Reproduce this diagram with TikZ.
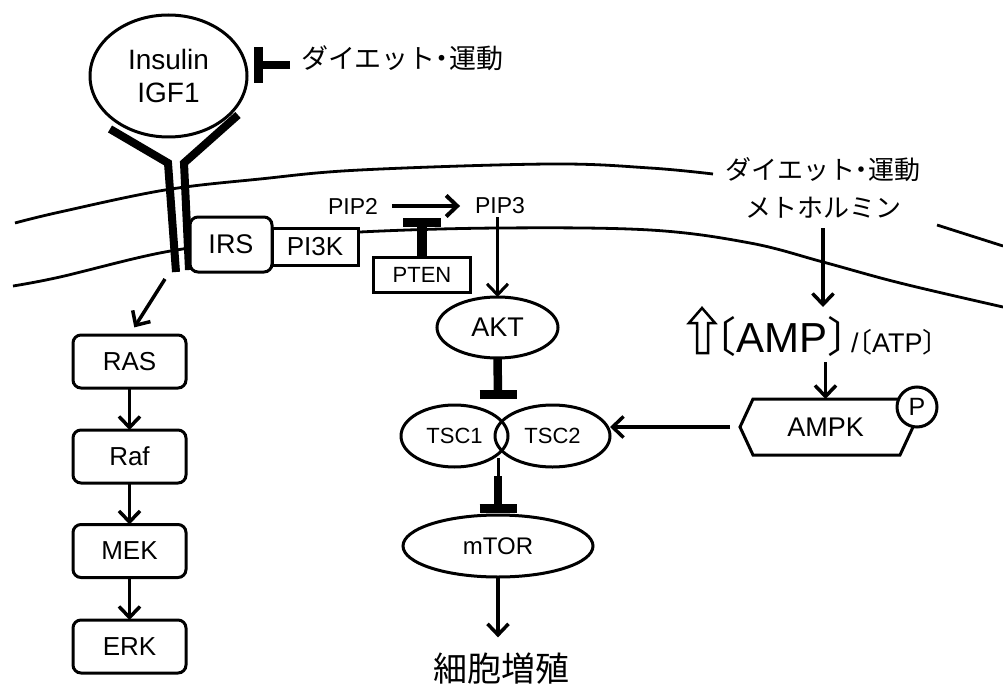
\documentclass[tikz,border=0pt]{standalone}
\usepackage{fontspec}
\setmainfont{Liberation Sans}
\newfontfamily\cjk{Noto Sans CJK JP}
\newfontfamily\cjkh[RawFeature=+halt]{Noto Sans CJK JP}
\usetikzlibrary{arrows.meta,shapes.geometric}
\begin{document}
\begin{tikzpicture}[x=1pt,y=-1pt,
  every node/.style={inner sep=0pt,outer sep=0pt},
  ln/.style={line width=3pt},
  mem/.style={line width=2.8pt},
  rec/.style={line width=8pt},
  arr/.style={line width=3.5pt,-{Straight Barb[length=11pt,width=21pt]}},
  inh/.style={line width=8.5pt},
  tbar/.style={line width=9pt},
  box/.style={draw,line width=3pt,rounded corners=8pt,fill=white,minimum width=113pt,minimum height=53pt,font=\fontsize{26}{26}\selectfont},
  sq/.style={draw,line width=3pt,fill=white},
  ell/.style={draw,ellipse,line width=3pt},
  jp/.style={font=\cjkh\fontsize{26}{38}\selectfont},
]
\useasboundingbox (0,0) rectangle (1003,687);
% membrane
\draw[mem] plot[smooth,tension=0.6] coordinates {(15,223) (60,212) (165,190) (260,179) (360,170) (550,164) (650,168) (713,174)};
\draw[mem] plot[smooth,tension=0.6] coordinates {(13,286) (60,277) (165,252) (260,240) (360,232) (500,228) (650,230) (750,243) (823,262) (900,283) (1003,307)};
\draw[mem] (937,225) -- (1003,246);
% ligand and receptor
\node[ell,minimum width=157pt,minimum height=122pt,align=center,font=\fontsize{28}{33}\selectfont] (ins) at (168.5,76) {Insulin\\IGF1};
\draw[rec] (110,129) -- (168,163) -- (176,272);
\draw[rec] (238,115) -- (184,163) -- (189,270);
\node[sq,minimum width=86pt,minimum height=37pt,font=\fontsize{26}{26}\selectfont] (pi3k) at (315,246.5) {PI3K};
\node[box,minimum width=82pt,minimum height=55pt,font=\fontsize{27}{27}\selectfont] (irs) at (231,244.5) {IRS};
% diet inhibition of insulin
\node[jp,font=\cjkh\fontsize{27}{27}\selectfont,anchor=west] (diet1) at (301,58) {ダイエット・運動};
\coordinate (insbar) at (258,65);
\draw[tbar] ([yshift=18pt]insbar) -- ([yshift=-18pt]insbar);
\draw[inh,shorten <=11pt] (diet1.west |- insbar) -- (insbar);
% PIP2 -> PIP3
\node[font=\fontsize{23}{23}\selectfont] (pip2) at (353,206) {PIP2};
\node[font=\fontsize{23}{23}\selectfont] (pip3) at (500,206) {PIP3};
\draw[arr,line width=4pt,shorten <=14pt,shorten >=15pt] (pip2) -- (pip3);
% PTEN
\node[sq,minimum width=97pt,minimum height=35pt,font=\fontsize{22}{22}\selectfont] (pten) at (422,274.5) {PTEN};
\coordinate (pbar) at (422,222);
\draw[inh,line width=9.5pt] (pten.north) -- (pbar);
\draw[tbar] ([xshift=-19pt]pbar) -- ([xshift=19pt]pbar);
% AKT
\node[ell,minimum width=121pt,minimum height=61pt,font=\fontsize{27}{27}\selectfont] (akt) at (497.5,327.5) {AKT};
\draw[arr,line width=3pt,shorten <=3pt] (pip3.south -| akt.north) -- (akt.north);
\coordinate (abar) at (498,394);
\draw[inh] (akt.south) -- (abar);
\draw[tbar] ([xshift=-18.5pt]abar) -- ([xshift=18.5pt]abar);
% TSC
\node[ell,minimum width=107pt,minimum height=62pt,font=\fontsize{22}{22}\selectfont] (tsc1) at (454.5,436) {TSC1};
\node[ell,minimum width=115pt,minimum height=62pt,font=\fontsize{22}{22}\selectfont] (tsc2) at (552.5,436) {TSC2};
\coordinate (tscj) at (498,458);
\coordinate (mstem) at (498,476);
\coordinate (mbar) at (498,508);
\draw[ln] (tscj) -- (mstem);
\draw[inh] (mstem) -- (mbar);
\draw[tbar] ([xshift=-18.5pt]mbar) -- ([xshift=18.5pt]mbar);
% mTOR
\node[ell,minimum width=190pt,minimum height=62pt,font=\fontsize{24}{24}\selectfont] (mtor) at (498,546) {mTOR};
\node[font=\cjk\fontsize{34}{34}\selectfont,anchor=base] (prol) at (501,681) {細胞増殖};
\draw[arr,shorten >=15pt] (mtor.south) -- (mtor.south |- prol.north);
% MAPK cascade
\node[box] (ras) at (129.5,361.5) {RAS};
\node[box] (raf) at (129.5,456.5) {Raf};
\node[box] (mek) at (129.5,551) {MEK};
\node[box] (erk) at (129.5,646.5) {ERK};
\coordinate (recb) at (165,279);
\draw[arr,shorten >=9pt] (recb) -- (ras.north);
\draw[arr] (ras) -- (raf);
\draw[arr] (raf) -- (mek);
\draw[arr] (mek) -- (erk);
% AMPK branch
\node[jp,align=center] (diet2) at (823,188) {ダイエット・運動\\メトホルミン};
\node[font=\fontsize{42}{42}\selectfont,anchor=base west,text height=45pt,text depth=10pt] (amp) at (715,352) {{\cjkh 〔}AMP{\cjkh 〕}};
\node[font=\fontsize{27}{27}\selectfont,anchor=base west] (atp) at (851,352) {/{\cjkh 〔}ATP{\cjkh 〕}};
\draw[line width=2.5pt] (697,353) -- (697,323) -- (689,323) -- (702,308) -- (715,323) -- (708,323) -- (708,353) -- cycle;
\draw[arr,shorten <=10pt] (diet2.south) -- (diet2.south |- amp.north);
\node[minimum width=145pt,minimum height=56pt,font=\fontsize{27}{27}\selectfont] (ampk) at (825.5,427) {AMPK};
\draw[arr] (amp.south -| ampk.north) -- (ampk.north);
\draw[ln] ([xshift=-13pt]ampk.west) -- (ampk.north west) -- (ampk.north east) -- ([xshift=15pt]ampk.east) -- ([xshift=2pt]ampk.south east) -- (ampk.south west) -- cycle;
\node[draw,circle,line width=3pt,fill=white,minimum size=40pt,font=\fontsize{25}{25}\selectfont] (p) at (917,407) {P};
\draw[arr] ([xshift=-23pt]ampk.west) -- (ampk.west -| tsc2.east);
\end{tikzpicture}
\end{document}
